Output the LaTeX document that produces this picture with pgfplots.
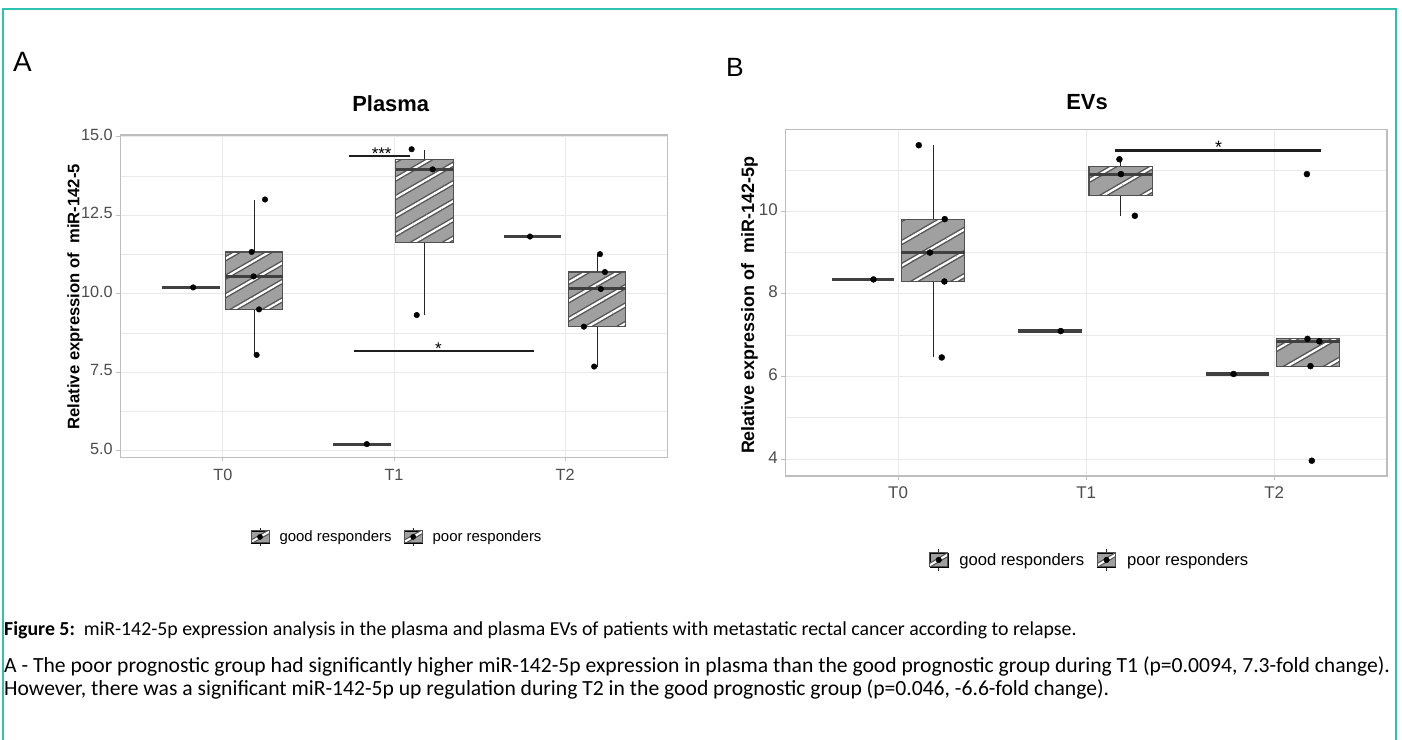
\documentclass[border=0pt]{standalone}
\usepackage{pgfplots}
\pgfplotsset{compat=1.18}
\usetikzlibrary{patterns.meta}
\usepackage{fontspec}
\setmainfont{Liberation Sans}
\newfontfamily\carlito{Carlito}

\definecolor{framecol}{RGB}{45,195,175}
\definecolor{boxfill}{RGB}{160,160,160}
\definecolor{boxedge}{RGB}{80,80,80}
\definecolor{stripedark}{RGB}{85,85,85}
\definecolor{medcol}{RGB}{64,64,64}
\definecolor{gridcol}{RGB}{233,233,233}
\definecolor{tickcol}{RGB}{77,77,77}
\definecolor{bordercol}{RGB}{190,190,190}
\definecolor{sigcol}{RGB}{30,30,30}

\tikzset{
  stripesA/.style={preaction={fill=boxfill},
    preaction={pattern={Lines[angle=30,distance=16bp,line width=5bp]}, pattern color=stripedark},
    preaction={pattern={Lines[angle=30,distance=16bp,line width=2.2bp]}, pattern color=white}},
  stripesB/.style={preaction={fill=boxfill},
    preaction={pattern={Lines[angle=30,distance=20bp,line width=5bp]}, pattern color=stripedark},
    preaction={pattern={Lines[angle=30,distance=20bp,line width=2.2bp]}, pattern color=white}},
}

\pgfplotsset{
  ggbase/.style={
    scale only axis,
    xmin=-0.6, xmax=2.6,
    xtick={0,1,2}, xticklabels={T0,T1,T2},
    grid=both,
    major grid style={gridcol, line width=1bp},
    minor grid style={gridcol, line width=0.6bp},
    axis line style={bordercol, line width=1.2bp},
    tick align=outside, tick pos=left,
    major tick length=4bp, minor tick length=0bp,
    tick style={bordercol, line width=1bp},
    /pgf/number format/assume math mode=true,
    typeset ticklabels with strut,
    legend columns=2,
    legend cell align=left,
  },
  boxA/.style={forget plot, draw=boxedge, line width=1.2bp, stripesA},
  boxB/.style={forget plot, draw=boxedge, line width=1.2bp, stripesB},
  med/.style={forget plot, medcol, line width=3bp},
  whisk/.style={forget plot, black!85, line width=1bp},
  single/.style={forget plot, medcol, line width=3bp},
  dots/.style={forget plot, only marks, mark=*, mark size=2.8bp, black},
  sig/.style={forget plot, sigcol, line width=2bp},
  respkeyA/.style={legend image code/.code={
      \draw[black!85, line width=1bp] (9bp,-9bp) -- (9bp,9bp);
      \fill[boxfill] (0bp,-6bp) rectangle (18bp,6bp);
      \begin{scope}
        \clip (0bp,-6bp) rectangle (18bp,6bp);
        \draw[stripedark, line width=4.5bp] (-2bp,-6.2bp) -- (20bp,6.2bp);
        \draw[white, line width=2bp] (-2bp,-6.2bp) -- (20bp,6.2bp);
      \end{scope}
      \draw[boxedge, line width=1bp] (0bp,-6bp) rectangle (18bp,6bp);
      \fill[black] (9bp,0bp) circle (2.6bp);}},
  respkeyB/.style={legend image code/.code={
      \draw[black!85, line width=1bp] (9bp,-11bp) -- (9bp,11bp);
      \fill[boxfill] (0bp,-7bp) rectangle (18bp,7bp);
      \begin{scope}
        \clip (0bp,-7bp) rectangle (18bp,7bp);
        \draw[stripedark, line width=4.5bp] (-2bp,-6.5bp) -- (20bp,6.5bp);
        \draw[white, line width=2bp] (-2bp,-6.5bp) -- (20bp,6.5bp);
      \end{scope}
      \draw[boxedge, line width=1bp] (0bp,-7bp) rectangle (18bp,7bp);
      \fill[black] (9bp,0bp) circle (2.8bp);}},
}

\begin{document}
\begin{tikzpicture}
\path[use as bounding box] (0,0) rectangle (1402bp,740bp);
\fill[white] (0,0) rectangle (1402bp,740bp);
\draw[framecol, line width=2.2bp] (3bp,0bp) -- (3bp,731bp) -- (1396bp,731bp) -- (1396bp,0bp);

% ---------------- Panel A ----------------
\begin{axis}[ggbase,
  at={(120.3bp,282.7bp)}, anchor=south west,
  width=547.4bp, height=322.3bp,
  ymin=4.79, ymax=15.054,
  ytick={5,7.5,10,12.5,15},
  minor ytick={6.25,8.75,11.25,13.75},
  tick label style={font=\fontsize{16.3}{19}\selectfont, text=tickcol},
  xticklabel style={yshift=-2bp},
  yticklabel style={/pgf/number format/.cd, fixed, fixed zerofill, precision=1},
  legend style={draw=none, fill=none, at={(0.5055,-0.247)}, anchor=center,
    font=\fontsize{15}{18}\selectfont,
    /tikz/every odd column/.append style={column sep=8bp},
    /tikz/every even column/.append style={column sep=10bp}},
]
% whiskers
\addplot[whisk] coordinates {(0.183,8.05) (0.183,9.50)};
\addplot[whisk] coordinates {(0.183,11.33) (0.183,12.98)};
\addplot[whisk] coordinates {(1.178,9.32) (1.178,11.63)};
\addplot[whisk] coordinates {(1.178,14.28) (1.178,14.58)};
\addplot[whisk] coordinates {(2.188,7.68) (2.188,8.95)};
\addplot[whisk] coordinates {(2.188,10.69) (2.188,11.26)};
% boxes (poor responders)
\addplot[boxA] coordinates {(0.0155,9.50) (0.3505,9.50) (0.3505,11.33) (0.0155,11.33)} -- cycle;
\addplot[boxA] coordinates {(1.0105,11.63) (1.3455,11.63) (1.3455,14.28) (1.0105,14.28)} -- cycle;
\addplot[boxA] coordinates {(2.0205,8.95) (2.3555,8.95) (2.3555,10.69) (2.0205,10.69)} -- cycle;
% medians
\addplot[med] coordinates {(0.0155,10.55) (0.3505,10.55)};
\addplot[med] coordinates {(1.0105,13.96) (1.3455,13.96)};
\addplot[med] coordinates {(2.0205,10.15) (2.3555,10.15)};
% good responders (single values)
\addplot[single] coordinates {(-0.355,10.20) (-0.020,10.20)};
\addplot[single] coordinates {(0.645,5.21) (0.980,5.21)};
\addplot[single] coordinates {(1.642,11.82) (1.978,11.82)};
% points
\addplot[dots] coordinates {(-0.174,10.20) (0.246,13.00) (0.168,11.33) (0.179,10.55) (0.211,9.50) (0.197,8.05)
  (0.841,5.21) (1.103,14.60) (1.226,13.96) (1.133,9.32)
  (1.795,11.82) (2.204,11.26) (2.233,10.69) (2.209,10.15) (2.110,8.95) (2.170,7.68)};
% significance
\addplot[sig] coordinates {(0.739,14.395) (1.094,14.395)};
\addplot[sig] coordinates {(0.766,8.175) (1.819,8.175)};
\node[anchor=base, font=\fontsize{17}{20}\selectfont, inner sep=0] at (axis cs:0.928,14.26) {***};
\node[anchor=base, font=\fontsize{17}{20}\selectfont, inner sep=0] at (axis cs:1.259,8.054) {*};
\addlegendimage{respkeyA}\addlegendentry{good responders}
\addlegendimage{respkeyA}\addlegendentry{poor responders}
\end{axis}

% ---------------- Panel B ----------------
\begin{axis}[ggbase,
  at={(785.3bp,264bp)}, anchor=south west,
  width=601.7bp, height=346.7bp,
  ymin=3.59, ymax=11.985,
  ytick={4,6,8,10},
  minor ytick={5,7,9,11},
  tick label style={font=\fontsize{17}{20}\selectfont, text=tickcol},
  xticklabel style={yshift=-1bp},
  legend style={draw=none, fill=none, at={(0.506,-0.242)}, anchor=center,
    font=\fontsize{16.7}{20}\selectfont,
    /tikz/every odd column/.append style={column sep=9bp},
    /tikz/every even column/.append style={column sep=11bp}},
]
% whiskers
\addplot[whisk] coordinates {(0.186,6.46) (0.186,8.30)};
\addplot[whisk] coordinates {(0.186,9.81) (0.186,11.60)};
\addplot[whisk] coordinates {(1.184,9.89) (1.184,10.39)};
\addplot[whisk] coordinates {(1.184,11.08) (1.184,11.26)};
% boxes
\addplot[boxB] coordinates {(0.0175,8.30) (0.3545,8.30) (0.3545,9.81) (0.0175,9.81)} -- cycle;
\addplot[boxB] coordinates {(1.0155,10.39) (1.3525,10.39) (1.3525,11.08) (1.0155,11.08)} -- cycle;
\addplot[boxB] coordinates {(2.0115,6.25) (2.3485,6.25) (2.3485,6.91) (2.0115,6.91)} -- cycle;
% medians
\addplot[med, line width=3.2bp] coordinates {(0.0175,9.00) (0.3545,9.00)};
\addplot[med, line width=3.2bp] coordinates {(1.0155,10.90) (1.3525,10.90)};
\addplot[med, line width=3.2bp] coordinates {(2.0115,6.85) (2.3485,6.85)};
% good responders
\addplot[single, line width=3.2bp] coordinates {(-0.353,8.35) (-0.021,8.35)};
\addplot[single, line width=3.2bp] coordinates {(0.640,7.10) (0.977,7.10)};
\addplot[single, line width=3.2bp] coordinates {(1.638,6.06) (1.975,6.06)};
% points
\addplot[dots, mark size=3bp] coordinates {(-0.131,8.35) (0.110,11.60) (0.248,9.81) (0.169,9.00) (0.246,8.30) (0.232,6.46)
  (0.865,7.10) (1.177,11.26) (1.185,10.90) (1.259,9.89)
  (1.784,6.06) (2.174,10.90) (2.177,6.91) (2.240,6.85) (2.193,6.25) (2.200,3.96)};
% significance
\addplot[sig, line width=2.4bp] coordinates {(1.154,11.467) (2.250,11.467)};
\node[anchor=base, font=\fontsize{18}{21}\selectfont, inner sep=0] at (axis cs:1.704,11.41) {*};
\addlegendimage{respkeyB}\addlegendentry{good responders}
\addlegendimage{respkeyB}\addlegendentry{poor responders}
\end{axis}

% ---------------- Labels ----------------
\node[anchor=base west, inner sep=0, font=\fontsize{28}{32}\selectfont] at (13bp,668bp) {A};
\node[anchor=base west, inner sep=0, font=\fontsize{26.5}{30}\selectfont] at (726bp,663bp) {B};
\node[anchor=base, inner sep=0, font=\bfseries\fontsize{22}{26}\selectfont] at (390.7bp,628.3bp) {Plasma};
\node[anchor=base, inner sep=0, font=\bfseries\fontsize{22}{26}\selectfont] at (1087bp,630.7bp) {EVs};
\node[rotate=90, inner sep=0, font=\bfseries\fontsize{16.7}{20}\selectfont] at (75bp,443.3bp) {Relative expression of\ \ miR-142-5};
\node[rotate=90, inner sep=0, font=\bfseries\fontsize{18}{21}\selectfont] at (749.5bp,434.5bp) {Relative expression of\ \ miR-142-5p};

% ---------------- Caption ----------------
\node[anchor=base west, inner sep=0, font=\carlito\fontsize{19.9}{24}\selectfont] at (4bp,104bp)
  {\textbf{Figure 5:}\ \ miR-142-5p expression analysis in the plasma and plasma EVs of patients with metastatic rectal cancer according to relapse.};
\node[anchor=base west, inner sep=0, font=\carlito\fontsize{21.7}{26}\selectfont] at (4bp,67bp)
  {A - The poor prognostic group had significantly higher miR-142-5p expression in plasma than the good prognostic group during T1 (p=0.0094, 7.3-fold change).};
\node[anchor=base west, inner sep=0, font=\carlito\fontsize{21.7}{26}\selectfont] at (4bp,44bp)
  {However, there was a significant miR-142-5p up regulation during T2 in the good prognostic group (p=0.046, -6.6-fold change).};
\end{tikzpicture}
\end{document}
